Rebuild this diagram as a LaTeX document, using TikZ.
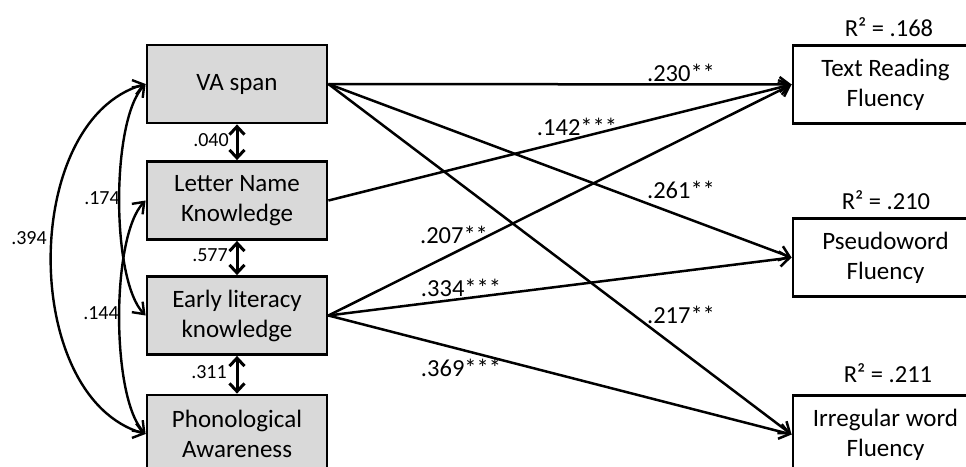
\documentclass[tikz,border=0pt]{standalone}
\usepackage{fontspec}
\setmainfont{Carlito}
\usetikzlibrary{arrows.meta}
\begin{document}
\begin{tikzpicture}[x=1pt,y=-1pt,
  box/.style={draw=black,line width=2.8pt,minimum width=180pt,minimum height=78pt,inner sep=0pt,align=center,font=\fontsize{25}{30}\selectfont},
  lbox/.style={box,fill=gray!30},
  rbox/.style={box,minimum width=185pt},
  path/.style={line width=2.5pt,-{Straight Barb[length=10pt,width=15pt,line width=2.5pt]}},
  cov/.style={line width=2.4pt,{Straight Barb[length=10pt,width=15pt,line width=2.4pt]}-{Straight Barb[length=10pt,width=15pt,line width=2.4pt]}},
  vcov/.style={line width=3pt,{Straight Barb[length=8pt,width=15pt,line width=3pt]}-{Straight Barb[length=8pt,width=15pt,line width=3pt]}},
  elab/.style={font=\fontsize{24.5}{29}\selectfont,inner sep=0pt},
  slab/.style={font=\fontsize{20}{24}\selectfont,inner sep=0pt}]
\useasboundingbox (0,0) rectangle (966,466);
\fill[white] (0,0) rectangle (966,466);
% left boxes
\node[lbox] (va) at (237,84) {VA span};
\node[lbox] (ln) at (237,200.5) {Letter Name\\Knowledge};
\node[lbox] (el) at (237,315.5) {Early literacy\\knowledge};
\node[lbox] (pa) at (237,434) {Phonological\\Awareness};
% right boxes
\node[rbox] (tr) at (885.5,84.5) {Text Reading\\Fluency};
\node[rbox] (pw) at (885.5,257.5) {Pseudoword\\Fluency};
\node[rbox] (iw) at (885.5,434.5) {Irregular word\\Fluency};
% R^2
\node[elab] (r1) at (889,27) {R² = .168};
\node[elab] (r2) at (886,200) {R² = .210};
\node[elab] (r3) at (888,373) {R² = .211};
% paths
\draw[path] (va.east) -- (tr.west);
\draw[path] (va.east) -- (pw.west);
\draw[path] (va.east) -- (iw.west);
\draw[path] (ln.east) -- (tr.west);
\draw[path] (el.east) -- (tr.west);
\draw[path] (el.east) -- (pw.west);
\draw[path] (el.east) -- (iw.west);
% path labels
\node[elab] (l230) at (681,73) {.230**};
\node[elab] (l142) at (577,127) {.142***};
\node[elab] (l261) at (681,190) {.261**};
\node[elab] (l207) at (454,235) {.207**};
\node[elab] (l334) at (461,288) {.334***};
\node[elab] (l217) at (681,315) {.217**};
\node[elab] (l369) at (461,368) {.369***};
% vertical covariances
\draw[vcov] (va.south) -- (ln.north);
\draw[vcov] (ln.south) -- (el.north);
\draw[vcov] (el.south) -- (pa.north);
\node[slab] (c040) at (211,140) {.040};
\node[slab] (c577) at (210,255) {.577};
\node[slab] (c311) at (209,372) {.311};
% curved covariances
\draw[cov] (va.west) .. controls (20,120) and (20,398) .. (pa.west);
\draw[cov] (va.west) .. controls (111,120) and (111,280) .. (el.west);
\draw[cov] (ln.west) .. controls (111,236) and (111,398) .. (pa.west);
\node[slab] (c394) at (29,238) {.394};
\node[slab] (c174) at (102,198) {.174};
\node[slab] (c144) at (101,313) {.144};
\end{tikzpicture}
\end{document}
